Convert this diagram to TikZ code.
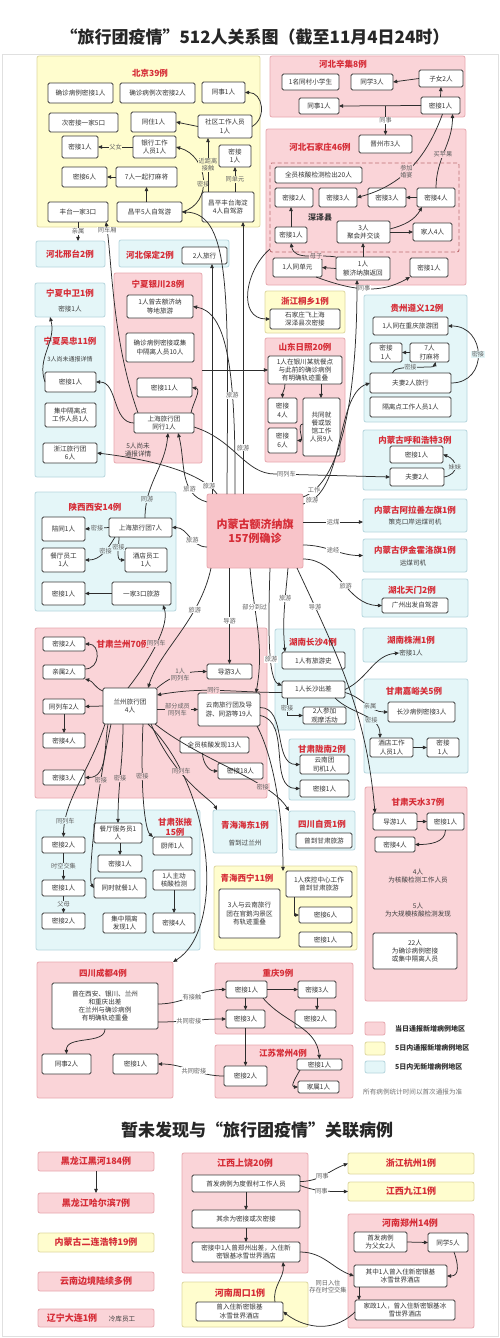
\documentclass[tikz,border=0pt]{standalone}
\usepackage{fontspec}
\setmainfont{Noto Sans CJK SC}
\usetikzlibrary{arrows.meta}
\definecolor{pkF}{RGB}{250,212,216}
\definecolor{pkD}{RGB}{232,168,175}
\definecolor{pkC}{RGB}{248,196,201}
\definecolor{ylF}{RGB}{255,253,206}
\definecolor{ylD}{RGB}{222,216,160}
\definecolor{cyF}{RGB}{228,246,248}
\definecolor{cyD}{RGB}{182,214,222}
\definecolor{ttlred}{RGB}{214,45,55}
\definecolor{ndc}{RGB}{60,60,60}
\definecolor{edgec}{RGB}{45,45,45}
\definecolor{dashc}{RGB}{190,110,115}
\newcommand\bx[7]{\node[#1,minimum width={((#5)-(#3))*1pt},minimum height={((#6)-(#4))*1pt}] (#2) at ({((#3)+(#5))/2},{((#4)+(#6))/2}) {#7};}
\tikzset{
 nd/.style={draw=ndc, fill=white, rounded corners=1.5pt, line width=0.85pt, font=\fontsize{6.6}{8.2}\selectfont, align=center, inner sep=0pt, outer sep=0pt, text=black!80},
 pkr/.style={draw=pkD, fill=pkF, rounded corners=2pt, line width=0.8pt, inner sep=0pt, outer sep=0pt},
 ylr/.style={pkr, draw=ylD, fill=ylF},
 cyr/.style={pkr, draw=cyD, fill=cyF},
 dsh/.style={draw=dashc, dash pattern=on 4pt off 2.5pt, line width=0.9pt, rounded corners=2pt, inner sep=0pt, outer sep=0pt},
 ttl/.style={font=\bfseries\fontsize{8.5}{10.5}\selectfont, text=ttlred, align=center, inner sep=0pt},
 pkt/.style={pkr, ttl, font=\bfseries\fontsize{9}{10}\selectfont},
 ylt/.style={ylr, ttl, font=\bfseries\fontsize{9}{10}\selectfont},
 ctr/.style={draw=pkD, fill=pkC, rounded corners=2pt, line width=0.8pt, inner sep=0pt, outer sep=0pt, font=\bfseries\fontsize{11}{14}\selectfont, text=ttlred, align=center},
 txt/.style={font=\fontsize{6.6}{8.2}\selectfont, text=black!75, align=center, inner sep=0pt},
 ar/.style={draw=edgec, line width=0.75pt, -{Triangle[length=4.2pt,width=3.6pt]}},
 lb/.style={font=\fontsize{6.2}{7.2}\selectfont, text=black!62, inner sep=0.6pt, align=center},
 lbw/.style={lb, fill=white},
 lbp/.style={lb, fill=pkF},
 lby/.style={lb, fill=ylF},
 lbc/.style={lb, fill=cyF},
 lgt/.style={font=\bfseries\fontsize{7}{8}\selectfont, text=black!80, inner sep=0pt},
}
\begin{document}
\begin{tikzpicture}[x=1pt,y=-1pt]
\fill[white] (0,0) rectangle (500,1338);
\useasboundingbox (0,0) rectangle (500,1338);
\draw[black!12, line width=0.8pt] (2,54) rectangle (498,1336);
\node[font=\bfseries\fontsize{17}{19}\selectfont, text=black!85] (T) at (255,37) {“旅行团疫情”512人关系图（截至11月4日24时）};

% ---------- regions ----------
\bx{ylr}{rBJ}{37}{56}{260}{227}{}
\bx{pkr}{rXJ}{270}{56}{465}{117}{}
\bx{pkr}{rSJ}{266}{129}{466}{285}{}
\bx{cyr}{rXT}{36}{241}{105}{267}{}
\bx{cyr}{rBD}{119}{240}{229}{267}{}
\bx{cyr}{rZW}{35}{283}{105}{317}{}
\bx{cyr}{rWZ}{35}{326}{105}{477}{}
\bx{pkr}{rYC}{114}{273}{202}{463}{}
\bx{ylr}{rZJ}{265}{291}{345}{333}{}
\bx{pkr}{rSD}{265}{338}{345}{462}{}
\bx{cyr}{rGZ}{364}{295}{467}{422}{}
\bx{cyr}{rHH}{363}{430}{467}{490}{}
\bx{cyr}{rAL}{363}{499}{467}{532}{}
\bx{cyr}{rYJ}{363}{539}{467}{572}{}
\bx{cyr}{rTM}{362}{579}{468}{617}{}
\bx{cyr}{rZZ}{363}{628}{467}{662}{}
\bx{cyr}{rSX}{35}{492}{176}{611}{}
\bx{pkr}{rLZ}{35}{628}{267}{798}{}
\bx{cyr}{rCS}{275}{629}{355}{730}{}
\bx{cyr}{rJY}{364}{679}{468}{773}{}
\bx{cyr}{rLN}{289}{739}{355}{800}{}
\bx{cyr}{rZG}{289}{811}{355}{850}{}
\bx{pkr}{rTS}{365}{787}{467}{1001}{}
\bx{cyr}{rZY}{36}{810}{200}{950}{}
\bx{cyr}{rQD}{213}{810}{277}{853}{}
\bx{ylr}{rXN}{214}{866}{357}{950}{}
\bx{pkr}{rCD}{37}{962}{173}{1098}{}
\bx{pkr}{rCQ}{215}{963}{353}{1034}{}
\bx{pkr}{rJS}{215}{1045}{353}{1098}{}
\bx{dsh}{rSZ}{270}{163}{459}{252}{}

% ---------- titles ----------
\node[ttl] (tBJ) at (150,73) {北京39例};
\node[ttl] (tXJ) at (343,64) {河北辛集8例};
\node[ttl] (tSJ) at (320,147) {河北石家庄46例};
\node[ttl] (tXT) at (70,254) {河北邢台2例};
\node[ttl] (tBD) at (150,255) {河北保定2例};
\node[ttl] (tZW) at (70,293) {宁夏中卫1例};
\node[ttl] (tWZ) at (70,341) {宁夏吴忠11例};
\node[ttl] (tYC) at (158,284) {宁夏银川28例};
\node[ttl] (tZJ) at (305,301) {浙江桐乡1例};
\node[ttl] (tSD) at (305,347) {山东日照20例};
\node[ttl] (tGZ) at (417,308) {贵州遵义12例};
\node[ttl] (tHH) at (415,440) {内蒙古呼和浩特3例};
\node[ttl] (tAL) at (415,510) {内蒙古阿拉善左旗1例};
\node[ttl] (tYJ) at (415,550) {内蒙古伊金霍洛旗1例};
\node[ttl] (tTM) at (412,590) {湖北天门2例};
\node[ttl] (tZZ) at (411,640) {湖南株洲1例};
\node[ttl] (tSX) at (95,507) {陕西西安14例};
\node[ttl] (tLZ) at (123,644) {甘肃兰州70例};
\node[ttl] (tCS) at (313,642) {湖南长沙4例};
\node[ttl] (tJY) at (414,691) {甘肃嘉峪关5例};
\node[ttl] (tLN) at (322,749) {甘肃陇南2例};
\node[ttl] (tZG) at (322,824) {四川自贡1例};
\node[ttl] (tTS) at (418,802) {甘肃天水37例};
\node[ttl] (tZY) at (175,827) {甘肃张掖\\15例};
\node[ttl] (tQD) at (245,825) {青海海东1例};
\node[ttl] (tXN) at (247,878) {青海西宁11例};
\node[ttl] (tCD) at (103,973) {四川成都4例};
\node[ttl] (tCQ) at (278,973) {重庆9例};
\node[ttl] (tJS) at (283,1053) {江苏常州4例};
\node[font=\bfseries\fontsize{8}{9}\selectfont, text=black!80] (szx) at (320,217) {深泽县};

% ---------- plain texts ----------
\node[txt] (zw1) at (70,309) {密接1人};
\node[txt, font=\fontsize{6}{7}\selectfont] (wzt) at (70,359) {3人尚未通报详情};
\node[txt] (yct) at (138,450) {5人尚未\\通报详情};
\node[txt] (al1) at (415,522) {策克口岸运煤司机};
\node[txt] (yj1) at (413,563) {运煤司机};
\node[txt] (zz1) at (411,653) {密接1人};
\node[txt] (qd1) at (245,843) {曾到过兰州};
\node[txt] (ts4) at (418,876) {4人\\为核酸检测工作人员};
\node[txt] (ts5) at (418,910) {5人\\为大规模核酸检测发现};

% ---------- center ----------
\bx{ctr}{C}{207}{494}{303}{568}{内蒙古额济纳旗\\157例确诊}

% ---------- Beijing ----------
\bx{nd}{bj1}{48}{83}{113}{103}{确诊病例密接1人}
\bx{nd}{bj2}{120}{83}{195}{103}{确诊病例次密接2人}
\bx{nd}{bj3}{202}{82}{245}{103}{同事1人}
\bx{nd}{bj4}{49}{113}{118}{132}{次密接一家5口}
\bx{nd}{bj5}{131}{112}{176}{132}{同住1人}
\bx{nd}{bj6}{198}{115}{252}{138}{社区工作人员\\1人}
\bx{nd}{bj7}{62}{136}{98}{158}{密接1人}
\bx{nd}{bj8}{133}{136}{176}{158}{银行工作\\人员1人}
\bx{nd}{bj9}{219}{145}{251}{167}{密接\\1人}
\bx{nd}{bj10}{62}{167}{107}{187}{密接6人}
\bx{nd}{bj11}{116}{167}{177}{187}{7人一起打麻将}
\bx{nd}{bj12}{48}{202}{108}{222}{丰台一家3口}
\bx{nd}{bj13}{117}{202}{182}{222}{昌平5人自驾游}
\bx{nd}{bj14}{202}{192}{254}{222}{昌平丰台海淀\\4人自驾游}

% ---------- Hebei ----------
\bx{nd}{xj1}{282}{74}{339}{90}{1名同村小学生}
\bx{nd}{xj2}{351}{74}{393}{90}{同学3人}
\bx{nd}{xj3}{419}{70}{463}{87}{子女2人}
\bx{nd}{xj4}{299}{98}{339}{114}{同事1人}
\bx{nd}{xj5}{421}{97}{460}{114}{密接1人}
\bx{nd}{sj1}{359}{135}{412}{153}{晋州市3人}
\bx{nd}{sj2}{275}{167}{362}{183}{全员核酸检测检出20人}
\bx{nd}{sj3}{275}{188}{313}{207}{密接2人}
\bx{nd}{sj4}{319}{188}{357}{207}{密接3人}
\bx{nd}{sj5}{368}{188}{406}{207}{密接3人}
\bx{nd}{sj6}{417}{188}{455}{207}{密接4人}
\bx{nd}{sj7}{275}{227}{307}{243}{密接1人}
\bx{nd}{sj8}{337}{221}{390}{243}{3人\\聚会并交谈}
\bx{nd}{sj9}{413}{223}{452}{241}{家人4人}
\bx{nd}{sj10}{273}{258}{322}{277}{1人同单元}
\bx{nd}{sj11}{336}{257}{390}{280}{1人\\额济纳旗返回}
\bx{nd}{sj12}{410}{258}{448}{277}{密接1人}
\bx{nd}{bd1}{182}{247}{227}{264}{2人旅行}
\bx{nd}{zj1}{270}{309}{340}{329}{石家庄飞上海\\深泽县次密接}

% ---------- Ningxia ----------
\bx{nd}{wz1}{45}{372}{96}{392}{密接1人}
\bx{nd}{wz2}{45}{403}{96}{427}{集中隔离点\\工作人员1人}
\bx{nd}{wz3}{43}{443}{97}{463}{浙江旅行团\\6人}
\bx{nd}{yc1}{127}{295}{193}{318}{1人曾去额济纳\\等地旅游}
\bx{nd}{yc2}{126}{333}{194}{362}{确诊病例密接或集\\中隔离人员10人}
\bx{nd}{yc3}{137}{378}{192}{397}{密接11人}
\bx{nd}{yc4}{134}{413}{194}{433}{上海旅行团\\同行1人}

% ---------- Shandong / Guizhou / Hohhot ----------
\bx{nd}{sd1}{268}{356}{342}{384}{1人在银川某就餐点\\与此前的确诊病例\\有明确轨迹重叠}
\bx{nd}{sd2}{268}{398}{297}{423}{密接\\4人}
\bx{nd}{sd3}{303}{398}{340}{456}{共同就\\餐或饭\\馆工作\\人员9人}
\bx{nd}{sd4}{268}{428}{297}{453}{密接\\6人}
\bx{nd}{gz1}{373}{317}{448}{335}{1人同在重庆旅游团}
\bx{nd}{gz2}{370}{343}{402}{362}{密接\\1人}
\bx{nd}{gz3}{410}{343}{449}{362}{7人\\打麻将}
\bx{nd}{gz4}{370}{373}{451}{393}{夫妻2人旅行}
\bx{nd}{gz5}{370}{397}{451}{417}{隔离点工作人员1人}
\bx{nd}{hh1}{390}{446}{443}{463}{密接1人}
\bx{nd}{hh2}{390}{468}{444}{486}{夫妻2人}
\bx{nd}{tm1}{382}{598}{448}{613}{广州出发自驾游}

% ---------- Shaanxi ----------
\bx{nd}{sx1}{42}{517}{85}{541}{陪同1人}
\bx{nd}{sx2}{109}{518}{172}{537}{上海旅行团7人}
\bx{nd}{sx3}{42}{548}{85}{572}{餐厅员工\\1人}
\bx{nd}{sx4}{125}{548}{167}{572}{酒店员工\\1人}
\bx{nd}{sx5}{42}{582}{85}{605}{密接1人}
\bx{nd}{sx6}{112}{582}{171}{605}{一家3口旅游}

% ---------- Lanzhou ----------
\bx{nd}{lz1}{103}{688}{157}{724}{兰州旅行团\\4人}
\bx{nd}{lz2}{43}{637}{85}{651}{密接2人}
\bx{nd}{lz3}{43}{665}{85}{679}{亲属2人}
\bx{nd}{lz4}{43}{699}{85}{714}{同列车2人}
\bx{nd}{lz5}{43}{733}{85}{748}{密接4人}
\bx{nd}{lz6}{43}{770}{85}{785}{密接3人}
\bx{nd}{lz7}{207}{664}{252}{679}{导游3人}
\bx{nd}{lz8}{198}{693}{260}{726}{云南旅行团及导\\游、同游等19人}
\bx{nd}{lz9}{180}{737}{249}{753}{全员核酸发现13人}
\bx{nd}{lz10}{218}{763}{263}{779}{密接18人}

% ---------- Hunan / Gansu ----------
\bx{nd}{cs1}{282}{652}{345}{669}{1人有旅游史}
\bx{nd}{cs2}{282}{681}{345}{698}{1人长沙出差}
\bx{nd}{cs3}{303}{707}{346}{724}{2人参加\\观摩活动}
\bx{nd}{jy1}{388}{702}{455}{722}{长沙病例密接3人}
\bx{nd}{jy2}{370}{738}{413}{757}{酒店工作\\人员1人}
\bx{nd}{jy3}{427}{738}{459}{757}{密接\\1人}
\bx{nd}{ln1}{300}{755}{349}{774}{云南团\\司机1人}
\bx{nd}{ln2}{300}{780}{349}{797}{密接1人}
\bx{nd}{zg1}{296}{833}{352}{848}{曾到甘肃旅游}
\bx{nd}{ts1}{373}{813}{417}{830}{导游1人}
\bx{nd}{ts2}{427}{813}{464}{830}{密接1人}
\bx{nd}{ts3}{375}{837}{415}{852}{密接4人}
\bx{nd}{ts6}{373}{933}{457}{969}{22人\\为确诊病例密接\\或集中隔离人员}

% ---------- Zhangye / Qinghai ----------
\bx{nd}{zy1}{42}{837}{85}{853}{密接2人}
\bx{nd}{zy2}{94}{823}{142}{843}{餐厅服务员1\\人}
\bx{nd}{zy3}{153}{837}{192}{855}{厨师1人}
\bx{nd}{zy4}{98}{855}{142}{872}{密接1人}
\bx{nd}{zy5}{153}{870}{195}{890}{1人主动\\核酸检测}
\bx{nd}{zy6}{42}{880}{85}{896}{密接1人}
\bx{nd}{zy7}{94}{878}{146}{898}{同时就餐1人}
\bx{nd}{zy8}{42}{913}{85}{929}{密接2人}
\bx{nd}{zy9}{103}{913}{146}{933}{集中隔离\\发现1人}
\bx{nd}{zy10}{153}{913}{195}{933}{密接4人}
\bx{nd}{xn1}{219}{889}{280}{938}{3人与云南旅行\\团在官鹅沟景区\\有轨迹重叠}
\bx{nd}{xn2}{286}{871}{352}{897}{1人疾控中心工作\\曾到甘肃旅游}
\bx{nd}{xn3}{299}{907}{352}{923}{密接6人}
\bx{nd}{xn4}{299}{932}{352}{947}{密接1人}

% ---------- Chengdu / Chongqing / Jiangsu ----------
\bx{nd}{cd1}{52}{983}{158}{1029}{曾在西安、银川、兰州\\和重庆出差\\在兰州与确诊病例\\有明确轨迹重叠}
\bx{nd}{cd2}{42}{1054}{91}{1074}{同事2人}
\bx{nd}{cd3}{113}{1054}{158}{1074}{密接1人}
\bx{nd}{cq1}{226}{981}{267}{998}{密接1人}
\bx{nd}{cq2}{298}{981}{336}{998}{密接3人}
\bx{nd}{cq3}{226}{1010}{265}{1028}{密接3人}
\bx{nd}{cq4}{295}{1010}{336}{1028}{密接2人}
\bx{nd}{cz1}{224}{1066}{267}{1086}{密接2人}
\bx{nd}{cz2}{297}{1059}{342}{1070}{密接1人}
\bx{nd}{cz3}{298}{1081}{339}{1093}{家属1人}

% ---------- legend ----------
\bx{pkr}{lg1}{365}{1022}{385}{1035}{}
\bx{ylr}{lg2}{365}{1042}{385}{1055}{}
\bx{cyr}{lg3}{365}{1061}{385}{1073}{}
\node[lgt, anchor=west] (lg1t) at (395,1029) {当日通报新增病例地区};
\node[lgt, anchor=west] (lg2t) at (395,1048) {5日内通报新增病例地区};
\node[lgt, anchor=west] (lg3t) at (395,1067) {5日内无新增病例地区};
\node[font=\fontsize{6.6}{8}\selectfont, text=black!55, anchor=west, inner sep=0pt] (lgn) at (363,1092) {所有病例统计时间以首次通报为准};

% ---------- bottom part ----------
\node[font=\bfseries\fontsize{17}{19}\selectfont, text=black!85] (T2) at (257,1130) {暂未发现与“旅行团疫情”关联病例};
\bx{pkr}{rSR}{182}{1153}{308}{1273}{}
\bx{ylr}{rZK}{182}{1282}{308}{1327}{}
\bx{pkr}{rHN}{348}{1214}{474}{1328}{}
\node[ttl, font=\bfseries\fontsize{9}{10}\selectfont] (tSR) at (245,1163) {江西上饶20例};
\node[ttl, font=\bfseries\fontsize{9}{10}\selectfont] (tZK) at (240,1293) {河南周口1例};
\node[ttl, font=\bfseries\fontsize{9}{10}\selectfont] (tHN) at (410,1223) {河南郑州14例};
\bx{ylt}{rHZ}{348}{1153}{474}{1174}{浙江杭州1例}
\bx{ylt}{rJJ}{348}{1182}{474}{1201}{江西九江1例}
\bx{pkt}{b1}{38}{1152}{154}{1171}{黑龙江黑河184例}
\bx{pkt}{b2}{38}{1193}{154}{1213}{黑龙江哈尔滨7例}
\bx{ylt}{b3}{38}{1233}{154}{1252}{内蒙古二连浩特19例}
\bx{pkt}{b4}{38}{1272}{154}{1291}{云南边境陆续多例}
\bx{pkr}{b5}{38}{1309}{154}{1327}{}
\node[ttl, font=\bfseries\fontsize{9}{10}\selectfont] (b5a) at (72,1318) {辽宁大连1例};
\node[txt] (b5b) at (122,1318.5) {冷库员工};
\bx{nd}{sr1}{192}{1175}{300}{1192}{首发病例为度假村工作人员}
\bx{nd}{sr2}{192}{1210}{300}{1228}{其余为密接或次密接}
\bx{nd}{sr3}{192}{1242}{300}{1262}{密接中1人曾郑州出差，入住新\\密银基冰雪世界酒店}
\bx{nd}{zk1}{196}{1302}{283}{1321}{曾入住新密银基\\冰雪世界酒店}
\bx{nd}{hn1}{354}{1232}{407}{1252}{首发病例\\为父女2人}
\bx{nd}{hn2}{428}{1233}{468}{1252}{同学5人}
\bx{nd}{hn3}{354}{1265}{447}{1287}{其中1人曾入住新密银基\\冰雪世界酒店}
\bx{nd}{hn4}{355}{1300}{455}{1320}{家政1人，曾入住新密银基冰\\雪世界酒店}

% ================= connectors =================
% Beijing
\draw[ar] (bj8.west) -- node[lby] (e1) {父女} (bj7.east);
\draw[ar] (bj11.west) -- (bj10.east);
\draw[ar] (bj11.south |- bj13.north) -- (bj11.south);
\draw[ar] (bj13.east) to[out=15,in=-15,looseness=1.3] node[lby,pos=0.45] (e2) {密接} (bj8.east);
\draw[ar] ([xshift=6pt]bj14.north west) -- node[lby] (e3) {近距离\\接触} ([xshift=10pt]bj6.south west);
\draw[ar] (bj6.west) -- (bj5.east);
\draw[ar] (bj6.east) to[out=30,in=0,looseness=1.3] (bj3.east);
\draw[ar] (bj9.south |- bj14.north) -- node[lby] (e4) {同单元} (bj9.south);
\draw[ar] (bj12.south) -- node[lbw] (e5) {亲属} (bj12.south |- rXT.north);
% Hebei
\draw[ar] (xj3.west) -- (xj2.east);
\draw[ar] (xj5.north) -- (xj3.south);
\draw[ar] (xj5.west) -- (xj4.east);
\draw[ar] (sj1.north |- xj4.east) -- node[lbw] (e6) {同事} (sj1.north);
\draw[ar] (sj6.north) to[out=90,in=-90] node[lbp,pos=0.45] (e7) {买苹果} ([xshift=12pt]xj5.south);
\draw[ar] ([xshift=2pt]xj5.south) to[out=-110,in=15] node[lbp,pos=0.55] (e8) {参加\\婚宴} (sj4.east);
\draw[ar] (sj7.north) -- (sj7.north |- sj3.south);
\draw[ar] (sj8.east) -- (sj9.west);
\draw[ar] ([yshift=3pt]sj8.east) to[out=15,in=-120] ([xshift=5pt]sj6.south west);
\draw[ar] (sj6.west) -- (sj5.east);
\draw[ar] (sj11.north) -- (sj11.north |- sj8.south);
\draw[ar] (sj11.west) -- (sj10.east);
\draw[ar] (sj11.north west) to[out=170,in=-80] node[lbp,pos=0.35] (e9) {母子} (sj7.south);
\draw[ar] ([xshift=-6pt]sj10.south east) to[out=-20,in=-150] node[lbw,pos=0.5] (e10) {同事} (sj12.south west);
\draw[ar] ([yshift=3pt]rSZ.south west) to[out=220,in=180,looseness=1.2] (zj1.west);
% Shandong / Guizhou / Hohhot
\draw[ar] (rYC.east |- sd1.west) -- (sd1.west);
\draw[ar] ([xshift=-20pt]sd1.south) to[out=-90,in=90] (sd2.north);
\draw[ar] ([xshift=16pt]sd1.south) -- ([xshift=16pt]sd1.south |- sd3.north);
\draw[ar] ([yshift=3pt]sd3.west) to[out=180,in=0] (sd4.east);
\draw[ar] (gz3.west) -- (gz2.east);
\draw[ar] ([xshift=-18pt]gz4.north) .. controls (393,364) and (434,369) .. node[lbc,pos=0.45] (e11) {密接} ([xshift=6pt]gz3.south);
\draw[ar] (gz4.east) to[out=0,in=0,looseness=1.7] node[lbc] (e12) {密接} (gz1.east);
\draw[ar] (hh2.east) to[out=10,in=-20,looseness=1.8] node[lbc] (e13) {妹妹} (hh1.east);
% Centre -> right
\draw[ar] (C.east |- al1) -- node[lbw] (e14) {运煤} (rAL.west |- al1);
\draw[ar] ([yshift=-14pt]C.east) to[out=0,in=180] node[lbw,pos=0.5] (e15) {途经} (rYJ.west);
\draw[ar] ([yshift=-28pt]C.east) to[out=0,in=180] node[lbw,pos=0.55] (e16) {旅游} (tm1.west);
\draw[ar] ([xshift=-6pt]C.south east) to[out=-65,in=95] node[lbw,pos=0.15] (e17) {导游} ([xshift=2pt]ts1.north west);
% Centre -> up
\draw[ar] ([xshift=5pt]C.north west) -- ([xshift=7.5pt]bd1.south);
\draw[ar] ([xshift=20pt]C.north west) .. controls (228,300) and (232,213) .. (bj13.east);
\draw[ar] ([xshift=36pt]C.north west) -- node[lbw,pos=0.17] (e18) {旅游} ([xshift=41pt]bj14.south west);
\draw[ar] ([xshift=28pt]C.north west) .. controls (236,360) and (225,312) .. node[lbw,pos=0.3] (e19) {旅游} (yc1.east);
\draw[ar] ([yshift=-8pt]C.north west) to[out=165,in=-75] node[lbw,pos=0.3] (e20) {旅游} ([xshift=14pt]yc4.south);
\draw[ar] ([xshift=10pt]C.north west) .. controls (200,470) and (140,458) .. node[lbw,pos=0.12] (e21) {旅游} (wz3.east);
\draw[ar] ([xshift=36pt]sx2.north west) to[out=90,in=-95] node[lbc,pos=0.2] (e22) {同游} ([xshift=4pt]yc4.south);
\coordinate (k1) at (275,474);
\draw[ar] ([yshift=-4pt]yc4.east) .. controls (235,440) and (245,474) .. (k1) -- node[lbw,pos=0.1] (e23) {同列车} (hh2.west);
\draw[ar] ([yshift=-3pt]C.north east) .. controls (335,485) and (357,420) .. node[lbw,pos=0.12] (e24) {工作} ([xshift=-6pt]sj11.south);
\draw[ar] ([yshift=-10pt]C.north east) .. controls (345,495) and (335,395) .. node[lbw,pos=0.08] (e25) {旅游} (gz4.west);
% Ningxia
\draw[ar] ([xshift=4pt]yc4.north west) .. controls (112,340) and (112,260) .. node[lbw,pos=0.93] (e26) {同车厢} ([xshift=-2pt]bj12.south east);
\draw[ar] ([xshift=-3pt]yc4.north east) to[out=80,in=-10] (yc3.east);
\draw[ar] (yc4.west) to[out=180,in=0] (wz1.east);
\draw[ar] (wz1.west) to[out=110,in=-75] ([xshift=-20pt]rZW.south);
% Centre -> left / down
\draw[ar] ([yshift=-16pt]C.west) to[out=180,in=0] node[lbw,pos=0.4] (e27) {旅游} (sx2.east);
\draw[ar] ([xshift=4pt]C.south west) .. controls (200,620) and (160,650) .. node[lbw,pos=0.3] (e28) {旅游} ([xshift=-9pt]lz1.north east);
\draw[ar] (lz7.north |- C.south) -- node[lbw,pos=0.55] (e29) {导游} (lz7.north);
\draw[ar] ([xshift=-5pt]C.south) to[out=-85,in=80] node[lbw,pos=0.3] (e30) {部分到过} ([xshift=-4pt]lz8.north east);
\draw[ar] ([xshift=-15pt]C.south east) to[out=-95,in=95] node[lbw,pos=0.35] (e31) {旅游} ([xshift=3pt]cs1.north west);
\draw[ar] ([xshift=-33pt]C.south east) .. controls (268,630) and (268,680) .. node[lbw,pos=0.6] (e32) {旅游} ([yshift=4pt]cs2.west);
% Shaanxi
\draw[ar] (sx2.west) -- node[lbc] (e33) {密接} (sx1.east);
\draw[ar] ([xshift=6pt]sx2.south west) to[out=-120,in=0] node[lbc,pos=0.4] (e34) {密接} (sx3.east);
\draw[ar] ([xshift=10pt]sx2.south west) to[out=-90,in=180] node[lbc,pos=0.35] (e35) {密接} (sx4.west);
\draw[ar] (sx6.west) -- (sx5.east);
\draw[ar] ([xshift=25pt]lz1.north west) .. controls (150,660) and (170,625) .. node[lbp,pos=0.5] (e36) {同列车} ([xshift=-8pt]sx6.south east);
% Lanzhou
\draw[ar] ([yshift=3pt]lz3.east) to[out=0,in=0,looseness=1.6] (lz2.east);
\draw[ar] ([yshift=-3pt]lz1.north west) to[out=160,in=-15] (lz3.south east);
\draw[ar] (lz1.west) -- (lz4.east);
\draw[ar] (lz4.south) -- (lz5.north);
\draw[ar] ([xshift=5pt]lz1.south west) to[out=-100,in=0] (lz6.east);
\draw[ar] (lz1.north east) to[out=40,in=180] node[lbp,pos=0.5] (e37) {1人\\同列车} (lz7.west);
\draw[ar] (lz1.east |- lz8.west) -- node[lbp] (e38) {部分成员\\同列车} (lz8.west);
\draw[ar] ([xshift=-12pt]lz9.south) to[out=-90,in=180] (lz10.west);
\draw[ar] ([yshift=-3pt]cs2.west) to[out=180,in=10] node[lbp,pos=0.55] (e39) {同行} ([yshift=-7pt]lz1.north east);
\draw[ar] ([yshift=2pt]lz8.east) to[out=0,in=180] (ln1.west);
\draw[ar] ([yshift=-6pt]lz8.east) to[out=-10,in=180] (ln2.west);
% Hunan / Gansu
\draw[ar] ([xshift=5pt]cs2.south west) |- node[lbc,pos=0.3] (e40) {密接} (cs3.west);
\draw[ar] (cs2.east) to[out=25,in=185] (zz1.west);
\draw[ar] ([yshift=-3pt]cs2.east) to[out=-15,in=180] node[lbc,pos=0.6] (e41) {亲属} (jy1.west);
\draw[ar] ([xshift=-10pt]cs2.south east) to[out=-45,in=90] node[lbc,pos=0.65] (e42) {密接} ([xshift=10pt]jy2.north west);
\draw[ar] (jy2.east) -- (jy3.west);
\draw[ar] (ts1.east) -- (ts2.west);
\draw[ar] (ts2.south) to[out=-90,in=0] (ts3.east);
% Lanzhou -> Zhangye, Qinghai, Sichuan
\draw[ar] ([xshift=2pt]lz1.south west) .. controls (90,770) and (64,800) .. node[lbc,pos=0.85] (e43) {同列车} (zy1.north);
\draw[ar] ([xshift=8pt]lz1.south west) .. controls (95,800) and (88,880) .. node[lbp,pos=0.25] (e44) {密接} (zy7.west);
\draw[ar] ([xshift=20pt]lz1.south west) to[out=-90,in=90] node[lbp,pos=0.55] (e45) {密接} (zy2.north);
\draw[ar] ([xshift=-14pt]lz1.south east) .. controls (140,790) and (145,830) .. node[lbp,pos=0.3] (e46) {密接} (zy3.north west);
\draw[ar] ([xshift=-6pt]lz1.south east) .. controls (175,780) and (212,800) .. ([xshift=4pt]rQD.north west);
\draw[ar] ([xshift=-9pt]lz1.south east) .. controls (215,790) and (225,930) .. node[lbp,pos=0.2] (e47) {同列车} (rCD.north east);
\draw[ar] ([xshift=-2pt]lz1.south east) .. controls (200,760) and (270,780) .. node[lbp,pos=0.72] (e48) {密接} (rZG.north west);
\draw[ar] ([xshift=-3pt]lz8.south east) .. controls (275,760) and (283,820) .. ([xshift=-3pt]xn2.north west);
% Zhangye
\draw[ar] (zy1.south) -- node[lbc] (e49) {时空交集} (zy6.north);
\draw[ar] (zy6.south) -- node[lbc] (e50) {父母} (zy8.north);
\draw[ar] (zy4.north |- zy2.south) -- (zy4.north);
\draw[ar] (zy5.south) -- (zy10.north);
% Qinghai
\draw[ar] ([xshift=8pt]xn2.south west) |- (xn3.west);
% Chengdu / Chongqing / Jiangsu
\draw[ar] (cd1.south) .. controls (105,1045) and (66,1035) .. (cd2.north);
\draw[ar] ([yshift=2pt]cd1.east) to[out=0,in=180] node[lbw,pos=0.5] (e51) {有接触} (cq1.west);
\draw[ar] ([yshift=-16pt]cd1.east) to[out=0,in=180] node[lbw,pos=0.45] (e52) {共同密接} (cq3.west);
\draw[ar] (cz1.west) to[out=180,in=0] node[lbw,pos=0.45] (e53) {共同密接} (cd3.east);
\draw[ar] (cq1.east) -- (cq2.west);
\draw[ar] (cq3.north |- cq1.south) -- (cq3.north);
\draw[ar] (cq2.south) -- (cq2.south |- cq4.north);
\draw[ar] ([xshift=-4pt]cq1.south east) to[out=-50,in=95] (cz2.north);
\draw[ar] (cq3.south) -- (cq3.south |- cz1.north);
\draw[ar] ([xshift=3pt]cz2.south west) to[out=-120,in=180,looseness=1.2] (cz3.west);
% bottom
\draw[ar] (b1.south) -- (b2.north);
\draw[ar] (sr1.south) -- (sr2.north);
\draw[ar] (sr2.south) -- (sr3.north);
\draw[ar] ([yshift=2pt]sr1.east) to[out=0,in=200] node[lbw,pos=0.45] (e54) {同事} (rHZ.west);
\draw[ar] ([yshift=-2pt]sr1.east) to[out=-20,in=180] node[lbw,pos=0.45] (e55) {同事} (rJJ.west);
\draw[ar] (hn1.east) -- (hn2.west);
\draw[ar] ([xshift=6pt]hn2.south) to[out=-70,in=0,looseness=1.3] (hn3.east);
\draw[ar] ([xshift=5pt]hn3.south west) -- ([xshift=5pt]hn3.south west |- hn4.north);
\draw[ar] (sr3.east) to[out=0,in=160] (hn3.west);
\draw[ar] ([yshift=-2pt]hn4.west) .. controls (330,1336) and (300,1325) .. (zk1.east);
\draw[ar] ([xshift=-8pt]zk1.north east) to[out=100,in=-85] ([xshift=-17pt]sr3.south east);
\node[lbw] (e56) at (328,1287) {同日入住\\存在时空交集};
\end{tikzpicture}
\end{document}
